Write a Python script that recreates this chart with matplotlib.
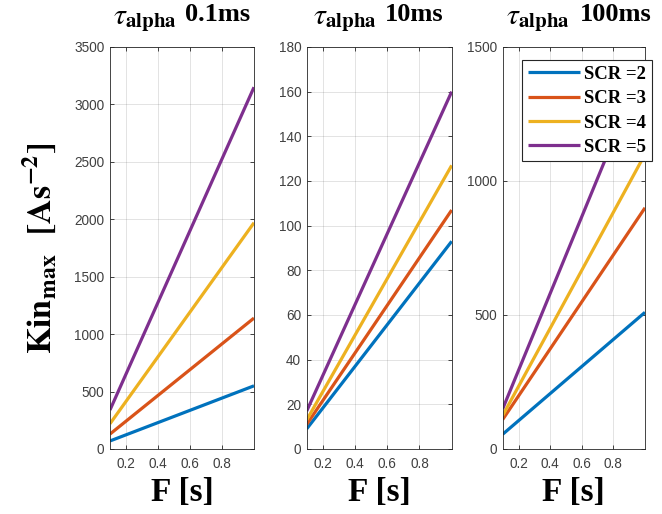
import matplotlib
matplotlib.use("Agg")
import matplotlib.pyplot as plt

F = [0.1, 1.0]
scr_labels = ["SCR =2", "SCR =3", "SCR =4", "SCR =5"]
title_values = ["0.1ms", "10ms", "100ms"]

# values at F = 0.1 and F = 1.0 for SCR = 2..5
tau_01 = [[70, 550], [130, 1140], [220, 1970], [340, 3150]]
tau_10 = [[9, 93], [11, 107], [13, 127], [17, 160]]
tau_100 = [[55, 510], [110, 900], [125, 1100], [150, 1440]]

ylims = [(0, 3500), (0, 180), (0, 1500)]
yticks = [list(range(0, 3501, 500)), list(range(0, 181, 20)), [0, 500, 1000, 1500]]
xticks = [0.2, 0.4, 0.6, 0.8]
xticklabels = ["0.2", "0.4", "0.6", "0.8"]

colors = ["#0072BD", "#D95319", "#EDB120", "#7E2F8E"]

plt.rcParams["mathtext.fontset"] = "stix"
plt.rcParams["font.family"] = ["Liberation Sans", "DejaVu Sans"]

fig = plt.figure(figsize=(6.62, 5.14), dpi=100)
lefts = [110 / 662, 306.7 / 662, 502.7 / 662]
widths = [144 / 662, 145 / 662, 142.3 / 662]
bottom = (514 - 449) / 514
height = 402 / 514
math_right = [0.463, 0.483, 0.473]
text_left = [0.521, 0.54, 0.543]

datasets = [tau_01, tau_10, tau_100]
axes = []
for i in range(3):
    ax = fig.add_axes([lefts[i], bottom, widths[i], height])
    axes.append(ax)
    for j, series in enumerate(datasets[i]):
        ax.plot(F, series, color=colors[j], lw=2.3, label=scr_labels[j], solid_capstyle="butt")
    ax.set_xlim(0.1, 1.0)
    ax.set_ylim(*ylims[i])
    ax.set_xticks(xticks)
    ax.set_xticklabels(xticklabels)
    ax.set_yticks(yticks[i])
    ax.tick_params(direction="in", top=True, right=True, labelsize=9.8,
                   labelcolor="#404040", color="#262626", length=3, width=0.6)
    ax.tick_params(axis="y", pad=4)
    ax.tick_params(axis="x", pad=6)
    ax.grid(True, color="#262626", alpha=0.15, lw=0.6)
    for s in ax.spines.values():
        s.set_color("#262626")
        s.set_linewidth(0.6)
    ax.text(math_right[i], 1.058, r"$\tau_{\mathbf{alpha}}$", transform=ax.transAxes,
            ha="right", va="baseline", fontsize=21.5)
    ax.text(text_left[i], 1.065, title_values[i], transform=ax.transAxes,
            ha="left", va="baseline", fontsize=19, fontfamily="Liberation Serif", fontweight="bold")
    ax.set_xlabel("F [s]", fontsize=24, fontfamily="Liberation Serif", fontweight="bold", labelpad=4)

axes[0].set_ylabel(r"$\mathbf{Kin_{max}}$  $\mathbf{[As^{-2}]}$", fontsize=24.5, labelpad=12)

leg = axes[2].legend(loc="upper right", bbox_to_anchor=(1.047, 0.967), borderaxespad=0,
                     prop={"family": "Liberation Serif", "weight": "bold", "size": 13.5},
                     fancybox=False, edgecolor="#262626", framealpha=1,
                     handlelength=2.8, handletextpad=0.2, labelspacing=0.38, borderpad=0.3)
leg.get_frame().set_linewidth(0.8)

fig.savefig("out.png", dpi=100)
